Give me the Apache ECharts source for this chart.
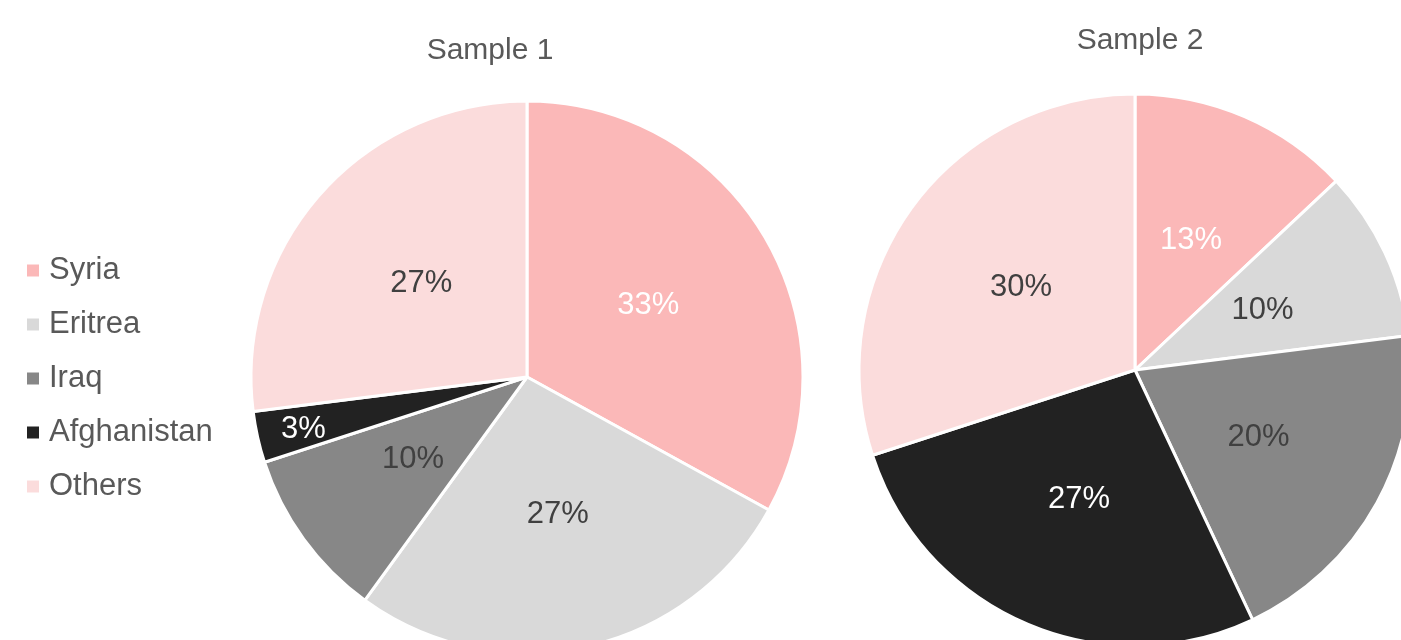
<!DOCTYPE html>
<html><head><meta charset="utf-8">
<script src="https://cdn.jsdelivr.net/npm/echarts@6/dist/echarts.min.js"></script>
<style>html,body{margin:0;padding:0;background:#fff}#c{width:1401px;height:640px}</style>
</head><body><div id="c"></div>
<script>
const categories = ['Syria', 'Eritrea', 'Iraq', 'Afghanistan', 'Others'];
const sample1 = [33, 27, 10, 3, 27];
const sample2 = [13, 10, 20, 27, 30];
const titles = ['Sample 1', 'Sample 2'];
const colors = ['#FBB8B8', '#D9D9D9', '#878787', '#222222', '#FBDCDC'];
const labelColors = ['#FFFFFF', '#404040', '#404040', '#FFFFFF', '#404040'];

const FONT = '"Liberation Sans", Arial, sans-serif';

function buildData(vals, offsets) {
  return vals.map((v, i) => {
    const d = { name: categories[i], value: v, itemStyle: { color: colors[i] },
      label: { color: labelColors[i] } };
    if (offsets && offsets[i]) d.label.offset = offsets[i];
    return d;
  });
}

const chart = echarts.init(document.getElementById('c'), null, { renderer: 'canvas' });
const pieCommon = {
  type: 'pie',
  radius: 276,
  startAngle: 90,
  clockwise: true,
  avoidLabelOverlap: false,
  legendHoverLink: false,
  itemStyle: { borderColor: '#ffffff', borderWidth: 3 },
  label: { show: true, position: 'inner', formatter: '{c}%', fontSize: 31, fontFamily: FONT },
  labelLine: { show: false },
  emphasis: { disabled: true }
};
chart.setOption({
  animation: false,
  title: [
    { text: titles[0], left: 490, top: 51, textAlign: 'center', textVerticalAlign: 'middle', padding: 0,
      textStyle: { fontSize: 30, fontWeight: 'normal', color: '#595959', fontFamily: FONT } },
    { text: titles[1], left: 1140, top: 41, textAlign: 'center', textVerticalAlign: 'middle', padding: 0,
      textStyle: { fontSize: 30, fontWeight: 'normal', color: '#595959', fontFamily: FONT } }
  ],
  legend: {
    orient: 'vertical', left: 25, top: 255, padding: 0,
    data: categories,
    icon: 'rect', itemWidth: 14, itemHeight: 14, itemGap: 24,
    selectedMode: false,
    textStyle: { fontSize: 31, color: '#595959', fontFamily: FONT, lineHeight: 30, padding: [0, 0, 0, 4] }
  },
  series: [
    Object.assign({}, pieCommon, { name: titles[0], center: [527, 377],
      data: buildData(sample1, { 3: [-86, 22] }) }),
    Object.assign({}, pieCommon, { name: titles[1], center: [1135, 370],
      data: buildData(sample2) })
  ]
});
chart.setOption({ legend: { itemGap: 23 } });
</script></body></html>
